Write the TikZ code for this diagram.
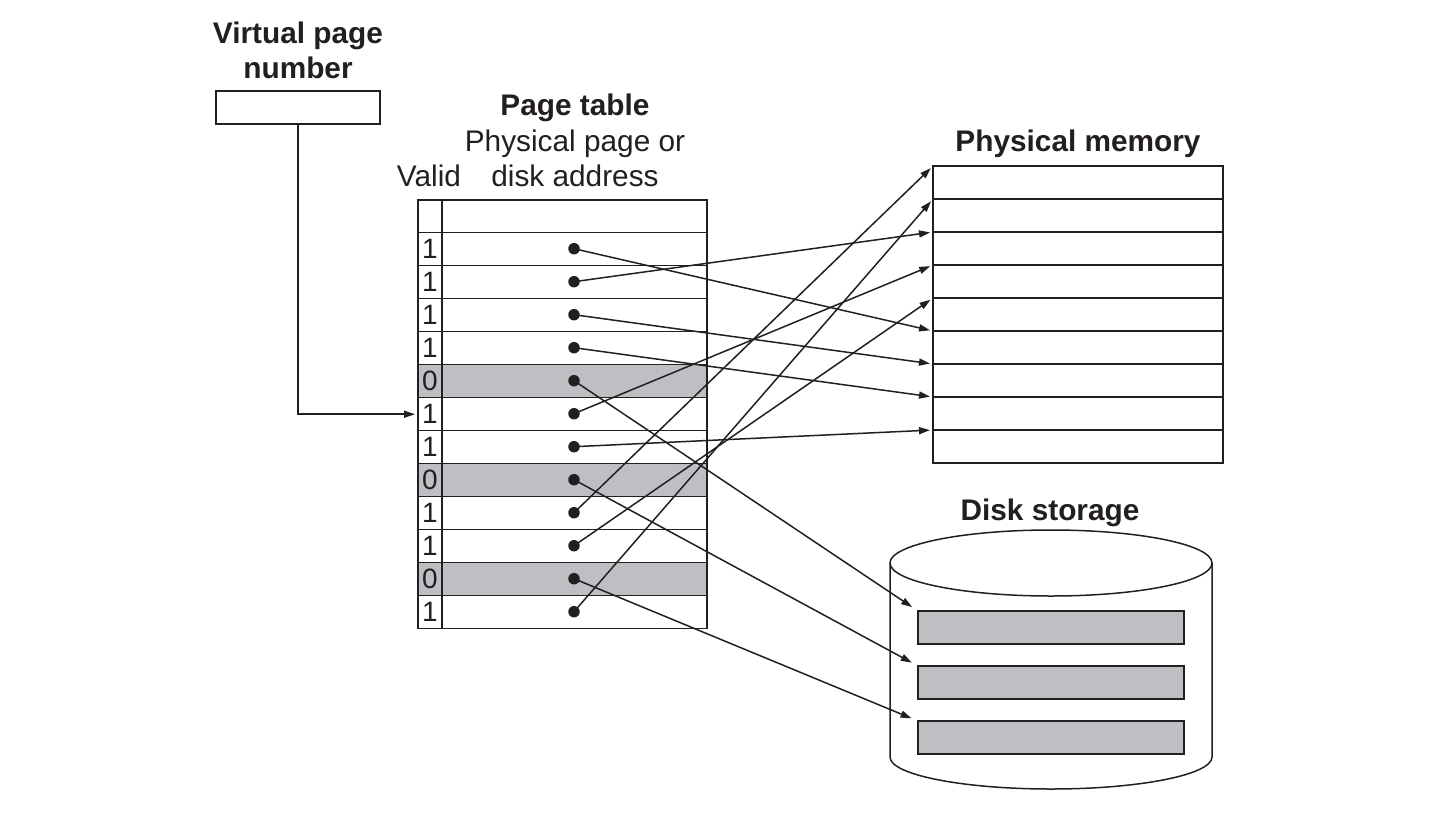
\documentclass[tikz,border=0pt]{standalone}
\usepackage{fontspec}
\setmainfont{Liberation Sans}
\usetikzlibrary{arrows.meta}
\definecolor{cellgray}{RGB}{190,191,195}
\definecolor{ink}{RGB}{35,31,32}
\begin{document}
\begin{tikzpicture}[x=1pt,y=-1pt,
  every node/.style={inner sep=0pt, outer sep=0pt},
  lbl/.style={anchor=base, font=\fontsize{29.8}{35}\selectfont, text=ink},
  blbl/.style={lbl, font=\fontsize{29.8}{35}\selectfont\bfseries},
  cell/.style={draw=ink, line width=1.5pt, minimum height=33pt, anchor=north west},
  vcell/.style={cell, minimum width=24pt, font=\fontsize{28}{30}\selectfont, text=ink},
  acell/.style={cell, minimum width=265pt},
  inval/.style={fill=cellgray},
  mrow/.style={cell, minimum width=290pt},
  drow/.style={draw=ink, line width=1.5pt, fill=cellgray, minimum width=266pt, minimum height=33pt, anchor=north west},
  dot/.style={circle, fill=ink, minimum size=11.5pt},
  arr/.style={draw=ink, line width=1.5pt, -{Triangle[length=11pt,width=7pt]}}
]
\useasboundingbox (0,0) rectangle (1444,828);

% titles
\node[blbl] (tvpn1) at (298,43) {Virtual page};
\node[blbl] (tvpn2) at (298,78) {number};
\node[blbl] (tpt) at (575,115) {Page table};
\node[lbl] (tpp1) at (575,151) {Physical page or};
\node[lbl] (tpp2) at (575,186) {disk address};
\node[lbl] (tvalid) at (429,186) {Valid};
\node[blbl] (tmem) at (1078,151) {Physical memory};
\node[blbl] (tdisk) at (1050,520) {Disk storage};

% virtual page number box
\node[cell, minimum width=164pt] (vpn) at (216,91) {};

% page table header
\node[vcell, minimum height=32.7pt] (vh) at (418,200) {};
\node[acell, minimum height=32.7pt] (ah) at (442,200) {};

% page table rows
\foreach \i/\v in {1/1,2/1,3/1,4/1,5/0,6/1,7/1,8/0,9/1,10/1,11/0,12/1}{
  \pgfmathsetmacro{\yy}{232.7+33*(\i-1)}
  \ifnum\v=0
    \node[vcell, inval] (v\i) at (418,\yy) {\v};
    \node[acell, inval] (a\i) at (442,\yy) {};
  \else
    \node[vcell] (v\i) at (418,\yy) {\v};
    \node[acell] (a\i) at (442,\yy) {};
  \fi
  \node[dot] (d\i) at (574,\yy+16) {};
}

% physical memory
\foreach \j in {1,...,9}{
  \node[mrow] (m\j) at (933,166+33*\j-33) {};
}

% disk cylinder
\draw[ink, line width=1.5pt] (1051,563) ellipse [x radius=161pt, y radius=33pt];
\draw[ink, line width=1.5pt] (890,563) -- (890,757) arc[start angle=180, end angle=360, x radius=161pt, y radius=32pt] -- (1212,563);
\node[drow] (k1) at (918,611) {};
\node[drow] (k2) at (918,666) {};
\node[drow] (k3) at (918,721) {};

% virtual page number pointer
\draw[arr, shorten >=3pt] (vpn.south) |- (v6.west);

% mappings to physical memory
\draw[arr, shorten >=3pt] (d1.center) -- (m6.north west);
\draw[arr, shorten >=3pt] (d2.center) -- (m3.north west);
\draw[arr, shorten >=3pt] (d3.center) -- (m7.north west);
\draw[arr, shorten >=3pt] (d4.center) -- (m8.north west);
\draw[arr, shorten >=3pt] (d6.center) -- (m4.north west);
\draw[arr, shorten >=3pt] (d7.center) -- (m9.north west);
\draw[arr, shorten >=3pt] (d9.center) -- (m1.north west);
\draw[arr, shorten >=3pt] (d10.center) -- (m5.north west);
\draw[arr, shorten >=3pt] (d12.center) -- (m2.north west);

% mappings to disk
\draw[arr, shorten >=7pt] (d5.center) -- (k1.north west);
\draw[arr, shorten >=7pt] (d8.center) -- (k2.north west);
\draw[arr, shorten >=7pt] (d11.center) -- (k3.north west);
\end{tikzpicture}
\end{document}
